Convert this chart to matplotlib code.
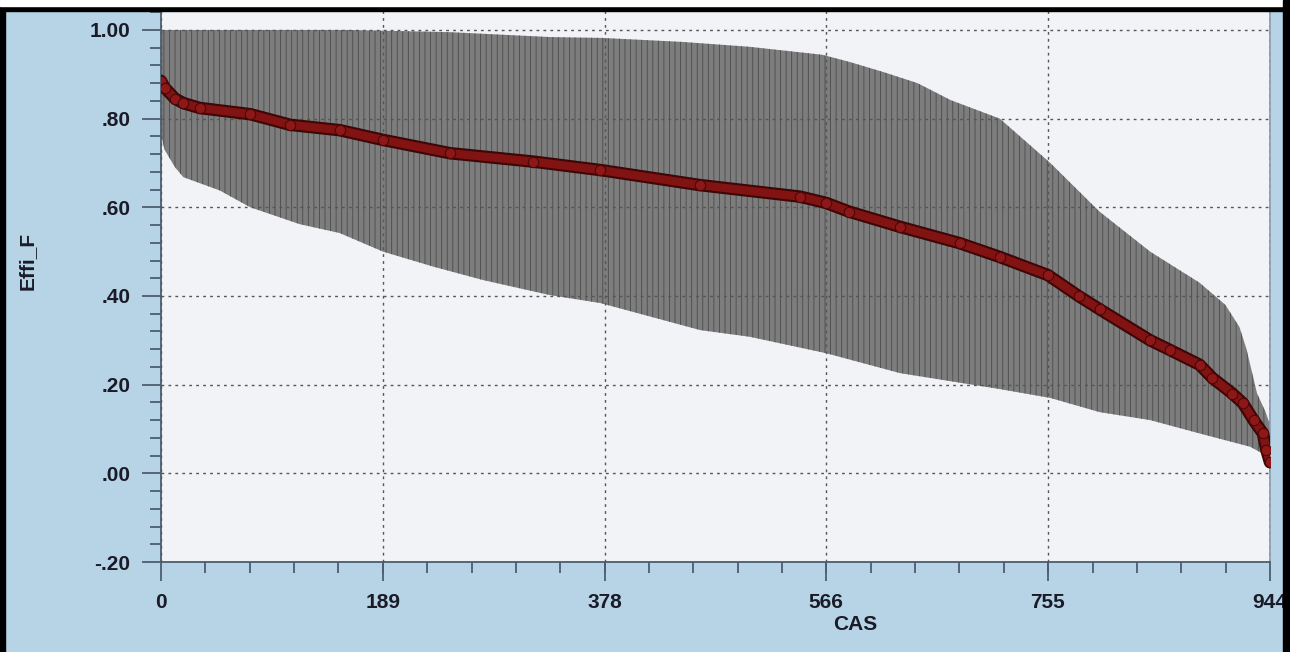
import numpy as np
import matplotlib
matplotlib.use("Agg")
import matplotlib.pyplot as plt
from matplotlib.ticker import FixedLocator
from matplotlib.patches import Rectangle
import matplotlib.patheffects as pe

# ---- data ----
upper_x = [0, 160, 246, 331, 376, 444, 501, 563, 586, 615, 644, 672, 714, 757, 799, 842, 884, 906, 918, 924, 933, 940, 944]
upper_y = [1.00, 1.00, 0.995, 0.984, 0.982, 0.973, 0.962, 0.944, 0.928, 0.905, 0.88, 0.842, 0.80, 0.70, 0.59, 0.50, 0.43, 0.38, 0.33, 0.28, 0.18, 0.14, 0.11]

lower_x = [0, 3, 12, 19, 50, 76, 118, 152, 189, 232, 274, 331, 374, 459, 501, 566, 629, 714, 757, 799, 842, 884, 927, 941, 944]
lower_y = [0.763, 0.73, 0.69, 0.668, 0.638, 0.60, 0.562, 0.542, 0.50, 0.466, 0.436, 0.402, 0.384, 0.323, 0.308, 0.271, 0.226, 0.19, 0.17, 0.138, 0.12, 0.09, 0.06, 0.04, 0.035]

med_x = [0, 3, 12, 19, 33, 76, 110, 152, 189, 246, 317, 374, 459, 544, 566, 586, 629, 680, 714, 755, 781, 799, 842, 859, 884, 895, 912, 921, 930, 938, 941, 944]
med_y = [0.885, 0.87, 0.845, 0.835, 0.824, 0.81, 0.786, 0.774, 0.752, 0.722, 0.703, 0.684, 0.65, 0.624, 0.61, 0.59, 0.556, 0.519, 0.488, 0.447, 0.40, 0.37, 0.30, 0.278, 0.245, 0.215, 0.18, 0.158, 0.12, 0.09, 0.052, 0.025]

x_ticks = [0, 189, 378, 566, 755, 944]
y_ticks = [-0.20, 0.00, 0.20, 0.40, 0.60, 0.80, 1.00]
y_ticklabels = ["-.20", ".00", ".20", ".40", ".60", ".80", "1.00"]
x_label = "CAS"
y_label = "Effi_F"

plt.rcParams['font.family'] = ['Liberation Sans', 'DejaVu Sans']
plt.rcParams['hatch.linewidth'] = 0.6

W, H = 1290, 652
fig = plt.figure(figsize=(W / 100, H / 100), dpi=100)
fig.patch.set_facecolor('#b7d4e7')

ax = fig.add_axes([161 / W, 1 - 562 / H, (1270 - 161) / W, (562 - 10) / H])
ax.set_facecolor('#f1f3f6')

# error band: dense vertical lines between lower and upper bounds
xs = np.union1d(upper_x, lower_x)
up = np.interp(xs, upper_x, upper_y)
lo = np.interp(xs, lower_x, lower_y)
ax.fill_between(xs, lo, up, facecolor='#7d7d7d', edgecolor='#4a4a4a',
                hatch='|||', linewidth=0, zorder=1)

ax.plot(med_x, med_y, color='#821313', lw=6, solid_capstyle='round', zorder=4,
        path_effects=[pe.Stroke(linewidth=9, foreground='#3e0606'), pe.Normal()])
ax.plot(med_x, med_y, 'o', ms=7.5, mfc='#8e1717', mec='#4a0808', mew=0.8, zorder=5)

ax.set_xlim(0, 944)
ax.set_ylim(-0.2, 1.045)

ax.set_xticks(x_ticks)
ax.set_xticklabels([str(v) for v in x_ticks])
ax.set_yticks(y_ticks)
ax.set_yticklabels(y_ticklabels)
ax.xaxis.set_minor_locator(FixedLocator(np.linspace(0, 944, 26)))
ax.yaxis.set_minor_locator(FixedLocator(np.arange(-0.2, 1.06, 0.04)))

ax.tick_params(axis='both', which='major', length=14, width=1.3, color='#4d5d6d',
               labelsize=15, labelcolor='#1b1b28', pad=8, direction='out')
ax.tick_params(axis='both', which='minor', length=8, width=1.3, color='#4d5d6d', direction='out')
for lab in ax.get_xticklabels() + ax.get_yticklabels():
    lab.set_fontweight('bold')

ax.grid(True, which='major', color='#555555', linestyle=(0, (2, 3)), linewidth=1.0, zorder=2)
ax.set_axisbelow(False)

ax.spines['top'].set_visible(False)
ax.spines['left'].set_color('#4d5d6d')
ax.spines['bottom'].set_color('#4d5d6d')
ax.spines['right'].set_color('#8ea2b4')
for s in ['left', 'bottom', 'right']:
    ax.spines[s].set_linewidth(1.3)

fig.text(855 / W, 1 - 625 / H, x_label, ha='center', va='center', fontsize=15,
         fontweight='bold', color='#1b1b28')
fig.text(27 / W, 1 - 261 / H, y_label, ha='center', va='center', rotation=90,
         fontsize=15, fontweight='bold', color='#1b1b28')

# black scan frame
fig.patches.append(Rectangle((0, 0), 5 / W, 1, transform=fig.transFigure, color='black', zorder=10))
fig.patches.append(Rectangle((0, 1 - 11 / H), 1, 5 / H, transform=fig.transFigure, color='black', zorder=10))
fig.patches.append(Rectangle((0, 1 - 6 / H), 1, 6 / H, transform=fig.transFigure, color='white', zorder=10))
fig.patches.append(Rectangle((1283 / W, 0), 7 / W, 1, transform=fig.transFigure, color='black', zorder=10))

fig.savefig('out.png', dpi=100, facecolor=fig.get_facecolor())
